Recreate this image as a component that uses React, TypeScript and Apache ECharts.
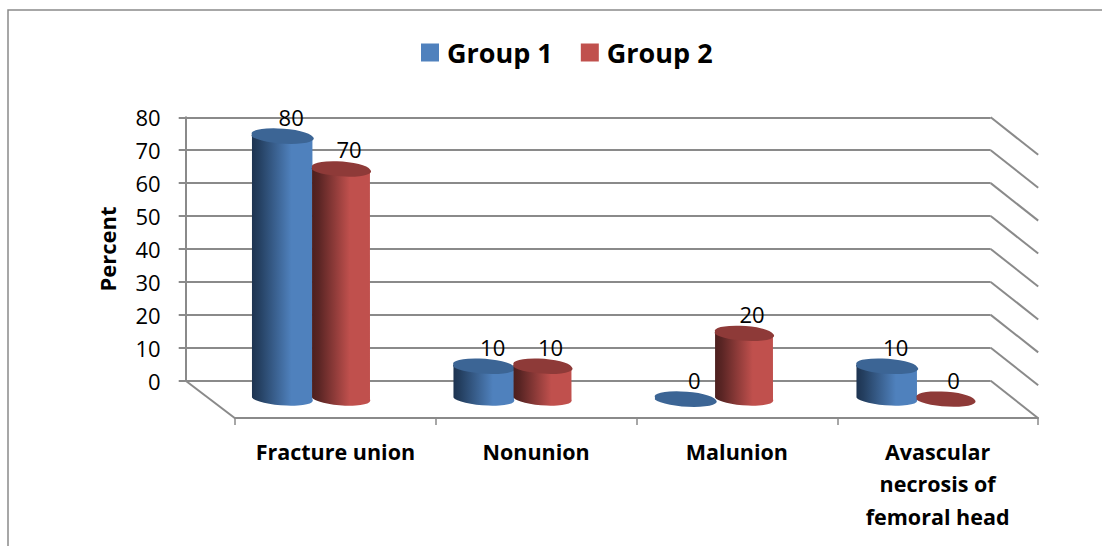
import React, { useEffect, useRef } from "react";
import * as echarts from "echarts";

const categories = ["Fracture union", "Nonunion", "Malunion", "Avascular\nnecrosis of\nfemoral head"];
const group1 = [80, 10, 0, 10];
const group2 = [70, 10, 20, 0];
const yTicks = [0, 10, 20, 30, 40, 50, 60, 70, 80];

const FONT = "Open Sans";
const TILT = 3.8;
const GRAY = "#8a8a8a";

function cylinder(
  name: string,
  values: number[],
  offset: number,
  rx: number,
  labelDx: number,
  side: string[],
  top: string,
  legendColor: string
) {
  return {
    name,
    type: "custom",
    xAxisIndex: 2,
    yAxisIndex: 2,
    encode: { x: 0, y: 1 },
    itemStyle: { color: legendColor },
    data: values.map((v, i) => [i, v]),
    z: 5,
    renderItem(_p: any, api: any) {
      const i = api.value(0);
      const v = api.value(1);
      const [c, yt] = api.coord([i, v]);
      const [, yb] = api.coord([i, 0]);
      const cx = c + offset;
      const ry = 6.8;
      const t = (TILT * Math.PI) / 180;
      const dx = rx * Math.cos(t);
      const dy = rx * Math.sin(t);
      const arc = `A${rx} ${ry} ${TILT} 0`;
      const children: any[] = [];
      if (v > 0) {
        children.push({
          type: "path",
          shape: {
            pathData:
              `M${cx - dx} ${yt - dy}L${cx - dx} ${yb - dy}${arc} 0 ${cx + dx} ${yb + dy}` +
              `L${cx + dx} ${yt + dy}${arc} 0 ${cx - dx} ${yt - dy}Z`,
          },
          style: {
            fill: new echarts.graphic.LinearGradient(0, 0, 1, 0, [
              { offset: 0, color: side[0] },
              { offset: 0.12, color: side[1] },
              { offset: 0.65, color: side[2] },
              { offset: 1, color: side[3] },
            ]),
          },
        });
      }
      children.push({
        type: "path",
        shape: {
          pathData:
            `M${cx - dx} ${yt - dy}${arc} 1 ${cx + dx} ${yt + dy}` +
            `${arc} 1 ${cx - dx} ${yt - dy}Z`,
        },
        style: { fill: top },
      });
      children.push({
        type: "text",
        style: {
          x: cx + labelDx,
          y: yt - 20,
          text: String(v),
          fill: "#000",
          font: `22px ${FONT}`,
          align: "center",
          verticalAlign: "middle",
        },
        z2: 10,
      });
      return { type: "group", children };
    },
  };
}

export default function App() {
  const ref = useRef<HTMLDivElement>(null);
  useEffect(() => {
    document.body.style.margin = "0";
    const chart = echarts.init(ref.current!, null, { renderer: "svg" });
    chart.setOption({
      animation: false,
      backgroundColor: "#fff",
      color: ["#4f81bd", "#c0504d"],
      legend: {
        data: ["Group 1", "Group 2"],
        left: 416,
        top: 34,
        icon: "rect",
        itemWidth: 18,
        itemHeight: 18,
        itemGap: 28,
        selectedMode: false,
        textStyle: {
          fontFamily: FONT,
          fontWeight: "bold",
          fontSize: 27,
          color: "#000",
          padding: [0, 0, 0, 3],
        },
      },
      graphic: [
        {
          type: "polyline",
          silent: true,
          shape: { points: [[8, 546], [8, 10], [1102, 10]] },
          style: { stroke: GRAY, lineWidth: 1.5, fill: "none" },
        },
      ],
      grid: [
        { left: 235, width: 803, top: 381, height: 37 },
        { left: 185.7, width: 805, top: 117.3, height: 263.4 },
        { left: 210.75, width: 806, top: 136.5, height: 263 },
      ],
      xAxis: [
        {
          gridIndex: 0,
          type: "category",
          data: categories,
          axisLine: { lineStyle: { color: GRAY, width: 2 } },
          axisTick: { show: true, alignWithLabel: false, length: 7, lineStyle: { color: GRAY, width: 1.5 } },
          axisLabel: {
            interval: 0,
            margin: 17,
            fontFamily: FONT,
            fontWeight: "bold",
            fontSize: 21.5,
            lineHeight: 32.5,
            color: "#000",
          },
        },
        { gridIndex: 1, type: "category", data: categories, show: false },
        { gridIndex: 2, type: "category", data: categories, show: false },
      ],
      yAxis: [
        { gridIndex: 0, type: "value", show: false, min: 0, max: 1 },
        {
          gridIndex: 1,
          type: "value",
          min: 0,
          max: 80,
          interval: 10,
          name: "Percent",
          nameLocation: "middle",
          nameRotate: 90,
          nameGap: 68,
          nameTextStyle: { fontFamily: FONT, fontWeight: "bold", fontSize: 22, color: "#000" },
          axisLine: { show: true, lineStyle: { color: GRAY, width: 2 } },
          axisTick: { show: true, length: 7, lineStyle: { color: GRAY, width: 2 } },
          axisLabel: { margin: 25, fontFamily: FONT, fontSize: 22, color: "#000" },
          splitLine: { show: true, lineStyle: { color: GRAY, width: 2 } },
        },
        { gridIndex: 2, type: "value", show: false, min: 0, max: 80, interval: 10 },
      ],
      series: [
        {
          type: "custom",
          xAxisIndex: 1,
          yAxisIndex: 1,
          silent: true,
          data: yTicks.map((v) => [0, v]),
          encode: { y: 1 },
          z: 1,
          renderItem(p: any, api: any) {
            const v = api.value(1);
            const y = api.coord([0, v])[1];
            const right = p.coordSys.x + p.coordSys.width;
            const left = p.coordSys.x;
            const lineStyle = { stroke: GRAY, lineWidth: 2, fill: "none" };
            const children: any[] = [
              {
                type: "line",
                shape: { x1: right, y1: y, x2: right + 47.5, y2: y + 37.5 },
                style: lineStyle,
              },
            ];
            if (v === 0) {
              children.push({
                type: "line",
                shape: { x1: left, y1: y, x2: left + 49.3, y2: y + 37.5 },
                style: lineStyle,
              });
            }
            return { type: "group", children };
          },
        },
        cylinder("Group 1", group1, -29.3, 30.3, 9, ["#1d3350", "#243f60", "#4f81bd", "#4f81bd"], "#3c6595", "#4f81bd"),
        cylinder("Group 2", group2, 29.5, 29, 8, ["#4c1f1e", "#5a2524", "#c0504d", "#c0504d"], "#8e3a38", "#c0504d"),
      ],
    });
    return () => chart.dispose();
  }, []);
  return <div ref={ref} style={{ position: "fixed", left: 0, top: 0, width: 1102, height: 546 }} />;
}
